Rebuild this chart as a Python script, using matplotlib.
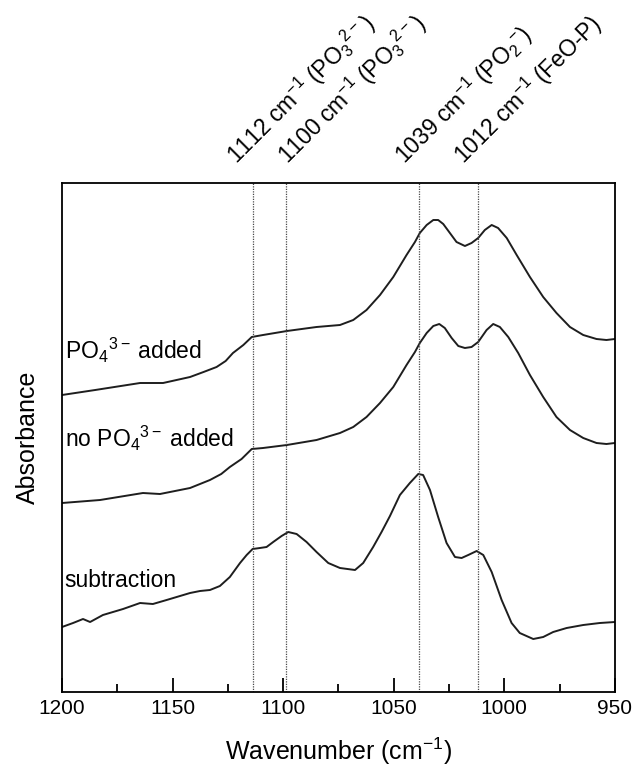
import matplotlib
matplotlib.use("Agg")
import matplotlib.pyplot as plt
import matplotlib.transforms as mtransforms
from matplotlib.ticker import MultipleLocator

plt.rcParams['font.family'] = ['Liberation Sans', 'DejaVu Sans']
plt.rcParams['mathtext.default'] = 'regular'

# spectra (wavenumber, absorbance in arbitrary offset units)
wn_added = [1200, 1185, 1164.7, 1154.3, 1142.1, 1136, 1130.1, 1126, 1122.7, 1118,
            1114.2, 1109.1, 1098.3, 1084.9, 1074.3, 1068.3, 1062.3, 1056.2, 1050.2, 1044.2,
            1040.4, 1038.2, 1035.1, 1032.1, 1029.9, 1027.6, 1024.6, 1021.6, 1017.8, 1014.8,
            1011.8, 1008.8, 1005.7, 1002.8, 998.9, 994.4, 988.4, 982.4, 976.4, 970.3,
            964.3, 958.3, 953.8, 950]
abs_added = [2.97, 3.02, 3.09, 3.09, 3.15, 3.20, 3.25, 3.31, 3.39, 3.47,
             3.55, 3.57, 3.61, 3.65, 3.67, 3.72, 3.82, 3.97, 4.15, 4.37,
             4.50, 4.59, 4.67, 4.72, 4.72, 4.68, 4.59, 4.50, 4.46, 4.49,
             4.54, 4.62, 4.67, 4.64, 4.54, 4.37, 4.15, 3.95, 3.79, 3.65,
             3.57, 3.53, 3.52, 3.53]

wn_none = [1200, 1182.8, 1163.4, 1155.7, 1142.1, 1133.1, 1128, 1124.1, 1118.8, 1114.2,
           1109.1, 1098.3, 1084.9, 1074.3, 1068.3, 1062.3, 1056.2, 1050.2, 1044.2, 1040.4,
           1038.2, 1035.1, 1032.1, 1029.4, 1026.9, 1023.8, 1020.8, 1017.8, 1014.8, 1011.8,
           1008, 1005, 1002, 998.2, 993.7, 988.4, 982.4, 976.4, 970.3, 964.3,
           958.3, 953.8, 950]
abs_none = [1.89, 1.92, 1.99, 1.98, 2.04, 2.12, 2.18, 2.25, 2.33, 2.43,
            2.44, 2.47, 2.52, 2.59, 2.65, 2.75, 2.89, 3.05, 3.27, 3.40,
            3.49, 3.59, 3.66, 3.68, 3.64, 3.54, 3.46, 3.44, 3.45, 3.50,
            3.62, 3.68, 3.65, 3.55, 3.39, 3.17, 2.95, 2.75, 2.62, 2.54,
            2.49, 2.48, 2.49]

wn_sub = [1200, 1195, 1190.5, 1187.3, 1181.5, 1172.4, 1164.7, 1158.9, 1152.7, 1142.1,
          1137.6, 1133.1, 1128.6, 1124.1, 1119.5, 1116.5, 1113.8, 1110.5, 1107.5, 1104.5,
          1100.7, 1097.7, 1093.9, 1089.4, 1084.9, 1079.6, 1074.3, 1067.5, 1063.8, 1059.3,
          1055.5, 1051.7, 1047.2, 1042.7, 1038.9, 1036.7, 1033.6, 1029.9, 1026.1, 1022.3,
          1019.3, 1016.3, 1012.5, 1009.5, 1005.7, 1001.2, 996.7, 993, 986.9, 982.4,
          977.9, 971.8, 964.3, 956.8, 950]
abs_sub = [0.65, 0.69, 0.73, 0.70, 0.77, 0.83, 0.89, 0.88, 0.92, 0.99,
           1.01, 1.02, 1.06, 1.15, 1.29, 1.37, 1.43, 1.44, 1.45, 1.50,
           1.56, 1.60, 1.58, 1.50, 1.40, 1.29, 1.24, 1.22, 1.29, 1.45,
           1.60, 1.76, 1.97, 2.09, 2.18, 2.17, 2.02, 1.75, 1.49, 1.35,
           1.34, 1.37, 1.41, 1.37, 1.20, 0.92, 0.69, 0.59, 0.53, 0.55,
           0.60, 0.64, 0.67, 0.69, 0.70]

# band markers
band_pos = [1113.5, 1098.5, 1038.5, 1012]
band_text = [r"1112 cm$^{-1}$ (PO$_3$$^{2-}$)", r"1100 cm$^{-1}$ (PO$_3$$^{2-}$)",
             r"1039 cm$^{-1}$ (PO$_2$$^{-}$)", r"1012 cm$^{-1}$ (FeO-P)"]
band_text_x = [1121, 1098, 1045, 1018]

fig = plt.figure(figsize=(6.34, 7.66), dpi=100)
ax = fig.add_axes([0.0978, 0.0966, 0.872, 0.6645])

line_kw = dict(color='#1e1e1e', lw=1.4, solid_joinstyle='round')
ax.plot(wn_added, abs_added, **line_kw)
ax.plot(wn_none, abs_none, **line_kw)
ax.plot(wn_sub, abs_sub, **line_kw)

for x in band_pos:
    ax.axvline(x, color='#4a4a4a', lw=0.9, ls=(0, (1, 1)))

trans = mtransforms.blended_transform_factory(ax.transData, ax.transAxes)
for x, t in zip(band_text_x, band_text):
    ax.text(x, 1.036, t, transform=trans, rotation=45, rotation_mode='anchor',
            ha='left', va='baseline', fontsize=16.5, clip_on=False)

# curve labels
ax.text(1198.8, 3.42, "PO$_4$$^{3-}$\u2009added", fontsize=16.5, va='center')
ax.text(1198.8, 2.54, "no PO$_4$$^{3-}$\u2009added", fontsize=16.5, va='center')
ax.text(1198.8, 1.12, "subtraction", fontsize=16.5, va='center')

ax.set_xlim(1200, 950)
ax.set_ylim(0, 5.09)
ax.xaxis.set_major_locator(MultipleLocator(50))
ax.xaxis.set_minor_locator(MultipleLocator(25))
ax.tick_params(axis='x', which='major', direction='in', length=10, width=1.3,
               labelsize=15, pad=5, top=False)
ax.tick_params(axis='x', which='minor', direction='in', length=6, width=1.3, top=False)
ax.set_yticks([])
for s in ax.spines.values():
    s.set_linewidth(1.3)

ax.set_xlabel(r"Wavenumber (cm$^{-1}$)", fontsize=18, labelpad=13)
ax.set_ylabel("Absorbance", fontsize=18, labelpad=16)

fig.savefig("out.png", dpi=100)
